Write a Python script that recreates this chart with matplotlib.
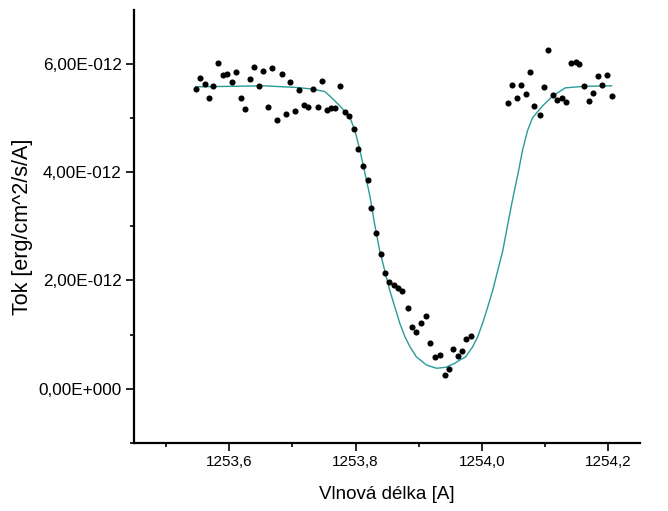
# -*- coding: utf-8 -*-
"""
Tok vs. vlnova delka - absorpcni cara s fitem
"""
import numpy as np
import matplotlib
matplotlib.use('Agg')
import matplotlib.pyplot as plt
from matplotlib.ticker import MultipleLocator, FixedLocator, FuncFormatter

plt.rcParams['font.family'] = ['Liberation Sans', 'DejaVu Sans']

# namerena data (vlnova delka [A], tok [1e-12 erg/cm^2/s/A])
lam = [1253.547, 1253.554, 1253.562, 1253.568, 1253.575, 1253.583, 1253.590,
       1253.597, 1253.605, 1253.611, 1253.618, 1253.625, 1253.633, 1253.640,
       1253.647, 1253.654, 1253.661, 1253.668, 1253.675, 1253.683, 1253.690,
       1253.697, 1253.704, 1253.711, 1253.718, 1253.725, 1253.733, 1253.740,
       1253.747, 1253.754, 1253.761, 1253.768, 1253.775, 1253.783, 1253.790,
       1253.797, 1253.804, 1253.812, 1253.819, 1253.825, 1253.833, 1253.840,
       1253.846, 1253.853, 1253.860, 1253.867, 1253.874, 1253.883, 1253.889,
       1253.896, 1253.904, 1253.912, 1253.918, 1253.926, 1253.933, 1253.941,
       1253.947, 1253.954, 1253.962, 1253.969, 1253.975, 1253.983,
       1254.041, 1254.048, 1254.055, 1254.062, 1254.069, 1254.076, 1254.083,
       1254.091, 1254.098, 1254.105, 1254.112, 1254.119, 1254.127, 1254.133,
       1254.141, 1254.148, 1254.154, 1254.162, 1254.169, 1254.176, 1254.183,
       1254.190, 1254.197, 1254.205]
tok = [5.537, 5.740, 5.630, 5.382, 5.598, 6.028, 5.795, 5.814, 5.677, 5.862,
       5.364, 5.161, 5.733, 5.943, 5.593, 5.869, 5.198, 5.935, 4.971, 5.819,
       5.076, 5.677, 5.124, 5.524, 5.242, 5.198, 5.537, 5.211, 5.690, 5.156,
       5.180, 5.180, 5.598, 5.106, 5.032, 4.800, 4.431, 4.111, 3.865, 3.336,
       2.883, 2.488, 2.138, 1.967, 1.912, 1.856, 1.801, 1.482, 1.132, 1.040,
       1.217, 1.340, 0.848, 0.579, 0.621, 0.253, 0.358, 0.732, 0.603, 0.689,
       0.911, 0.977,
       5.272, 5.611, 5.371, 5.611, 5.456, 5.851, 5.217, 5.064, 5.585, 6.256,
       5.432, 5.335, 5.382, 5.303, 6.017, 6.046, 6.009, 5.598, 5.309, 5.464,
       5.783, 5.617, 5.801, 5.401]

# fit
lam_fit = [1253.547, 1253.656, 1253.708, 1253.732, 1253.751, 1253.759, 1253.775,
           1253.791, 1253.799, 1253.807, 1253.815, 1253.823, 1253.830, 1253.838,
           1253.846, 1253.854, 1253.862, 1253.870, 1253.878, 1253.886, 1253.896,
           1253.912, 1253.928, 1253.943, 1253.957, 1253.965, 1253.974, 1253.985,
           1253.993, 1254.001, 1254.009, 1254.017, 1254.025, 1254.033, 1254.041,
           1254.049, 1254.057, 1254.064, 1254.072, 1254.080, 1254.096, 1254.112,
           1254.132, 1254.162, 1254.205]
tok_fit = [5.580, 5.598, 5.567, 5.537, 5.493, 5.414, 5.229, 5.014, 4.769, 4.400,
           3.971, 3.539, 3.049, 2.557, 2.188, 1.820, 1.512, 1.206, 0.959, 0.774,
           0.590, 0.437, 0.376, 0.394, 0.468, 0.529, 0.585, 0.769, 0.953, 1.211,
           1.506, 1.820, 2.188, 2.557, 3.054, 3.533, 3.976, 4.400, 4.769, 5.008,
           5.229, 5.414, 5.561, 5.589, 5.598]

y_ticks = [0, 2e-12, 4e-12, 6e-12]

lam = np.array(lam)
tok = np.array(tok) * 1e-12
lam_fit = np.array(lam_fit)
tok_fit = np.array(tok_fit) * 1e-12

fig = plt.figure(figsize=(6.68, 5.11), dpi=100)
ax = fig.add_axes([0.2006, 0.1337, 0.7575, 0.8467])

ax.plot(lam_fit, tok_fit, color='#2a9a9a', lw=1.0)
ax.plot(lam, tok, 'o', color='black', ms=4.4, mec='none')

ax.set_xlim(1253.4494, 1254.25)
ax.set_ylim(-1e-12, 7e-12)

ax.xaxis.set_major_locator(MultipleLocator(0.2))
ax.xaxis.set_minor_locator(MultipleLocator(0.1))
ax.yaxis.set_major_locator(FixedLocator(y_ticks))
ax.yaxis.set_minor_locator(FixedLocator([-1e-12, 1e-12, 3e-12, 5e-12]))


def fmt_x(v, pos):
    return ('%.1f' % v).replace('.', ',')


def fmt_y(v, pos):
    if abs(v) < 1e-20:
        return '0,00E+000'
    e = int(np.floor(np.log10(abs(v)) + 1e-9))
    m = v / 10 ** e
    s = '%.2fE%s%03d' % (m, '-' if e < 0 else '+', abs(e))
    return s.replace('.', ',')


ax.xaxis.set_major_formatter(FuncFormatter(fmt_x))
ax.yaxis.set_major_formatter(FuncFormatter(fmt_y))

for side in ['top', 'right']:
    ax.spines[side].set_visible(False)
for side in ['left', 'bottom']:
    ax.spines[side].set_linewidth(1.6)

ax.tick_params(which='major', direction='out', length=6, width=1.2,
               pad=3, colors='black')
ax.tick_params(axis='x', which='major', labelsize=11)
ax.tick_params(axis='y', which='major', labelsize=12.3)
ax.tick_params(which='minor', direction='out', length=3, width=1.2)

ax.set_xlabel('Vlnová délka [A]', fontsize=13.5, labelpad=12)
ax.set_ylabel('Tok [erg/cm^2/s/A]', fontsize=15.5)
ax.yaxis.set_label_coords(-0.2, 0.5)

fig.savefig('out.png', dpi=100)
